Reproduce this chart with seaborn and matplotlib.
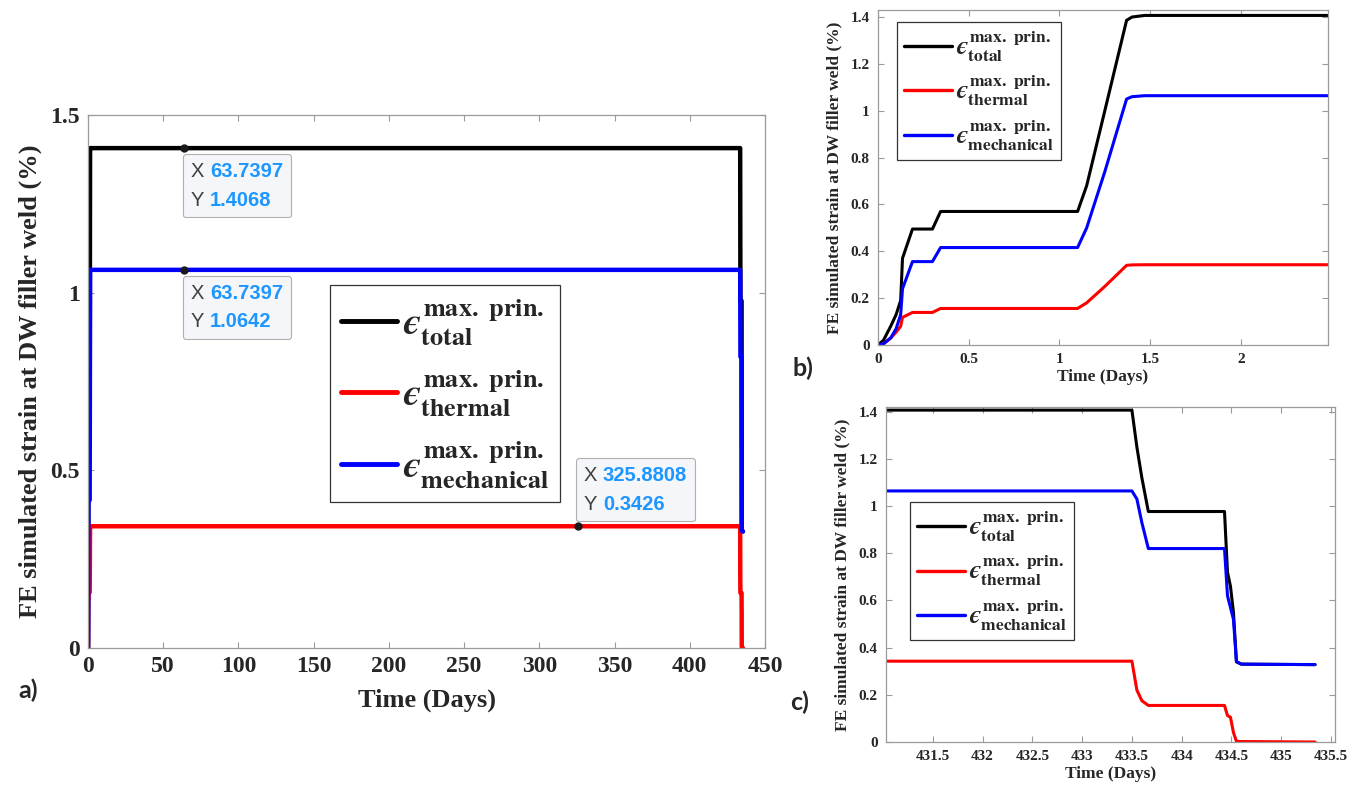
import matplotlib
matplotlib.use("Agg")
import matplotlib.pyplot as plt
from matplotlib.offsetbox import TextArea, HPacker, VPacker, AnnotationBbox
from matplotlib.ticker import FuncFormatter
import seaborn as sns
import pandas as pd

# time (days) and simulated max. principal strain (%) at the DW filler weld
time_days = [0, 0.03, 0.07, 0.10, 0.125, 0.135, 0.19, 0.30, 0.345, 1.10, 1.15, 1.25,
             1.37, 1.40, 1.47, 433.50, 433.55, 433.60, 433.665, 434.43, 434.46, 434.49,
             434.52, 434.55, 434.60, 435.34]
strain_total = [0, 0.02, 0.08, 0.13, 0.19, 0.37, 0.495, 0.495, 0.57, 0.57, 0.68, 1.00,
                1.386, 1.40, 1.4068, 1.4068, 1.25, 1.12, 0.977, 0.977, 0.72, 0.66,
                0.55, 0.34, 0.33, 0.328]
strain_thermal = [0, 0.005, 0.03, 0.055, 0.08, 0.118, 0.139, 0.139, 0.156, 0.156, 0.18, 0.25,
                  0.34, 0.342, 0.3426, 0.3426, 0.22, 0.175, 0.155, 0.155, 0.112, 0.105,
                  0.04, 0.003, 0.002, 0.0]
strain_mech = [0, 0.005, 0.03, 0.07, 0.13, 0.24, 0.356, 0.356, 0.416, 0.416, 0.50, 0.74,
               1.05, 1.06, 1.0642, 1.0642, 1.03, 0.93, 0.82, 0.82, 0.62, 0.57,
               0.52, 0.34, 0.33, 0.328]

series_names = ['total', 'thermal', 'mechanical']
series_colors = ['black', 'red', 'blue']

# data tips shown on panel a
tip_x = [63.7397, 63.7397, 325.8808]
tip_y = [1.4068, 1.0642, 0.3426]

df = pd.DataFrame({'Time': time_days, 'total': strain_total,
                   'thermal': strain_thermal, 'mechanical': strain_mech})

sns.set_style("ticks")
plt.rcParams['font.family'] = ['Liberation Serif', 'DejaVu Serif']
plt.rcParams['font.weight'] = 'bold'
plt.rcParams['axes.labelweight'] = 'bold'
plt.rcParams['mathtext.fontset'] = 'stix'

W, H = 1353, 787
fig = plt.figure(figsize=(W / 100, H / 100), dpi=100)
fig.patch.set_facecolor('white')


def px_axes(left, top, right, bottom):
    return fig.add_axes([left / W, 1 - bottom / H, (right - left) / W, (bottom - top) / H])


ax_a = px_axes(88, 115, 765, 648)
ax_b = px_axes(878, 10, 1328, 345)
ax_c = px_axes(886, 407, 1335, 742)

fmt = FuncFormatter(lambda v, p: '%g' % round(v, 4))
ylab = 'FE simulated strain at DW filler weld (%)'


def draw_panel(ax, lw, tick_fs, label_fs, leg_fs, leg_anchor, spacing, hlen):
    for name, col in zip(series_names, series_colors):
        lab = '$\u03f5^{\\mathbf{max.\\ prin.}}_{\\mathbf{' + name + '}}$'
        sns.lineplot(data=df, x='Time', y=name, ax=ax, color=col, lw=lw,
                     estimator=None, sort=False, label=lab)
    for sp in ax.spines.values():
        sp.set_visible(True)
        sp.set_color('#9a9a9a')
        sp.set_linewidth(0.9)
    ax.tick_params(direction='in', top=True, right=True, length=4, width=0.8,
                   color='#9a9a9a', labelsize=tick_fs, labelcolor='#262626', pad=6)
    ax.xaxis.set_major_formatter(fmt)
    ax.yaxis.set_major_formatter(fmt)
    ax.set_xlabel('Time (Days)', fontsize=label_fs, labelpad=2)
    ax.set_ylabel(ylab, fontsize=label_fs, labelpad=6)
    leg = ax.legend(loc='upper left', bbox_to_anchor=leg_anchor, fontsize=leg_fs,
                    frameon=True, fancybox=False, framealpha=1, edgecolor='#333333',
                    handlelength=hlen, handletextpad=0.15, borderpad=0.3,
                    labelspacing=spacing, borderaxespad=0)
    leg.get_frame().set_linewidth(0.9)
    for h in leg.get_lines():
        h.set_linewidth(lw * 1.1)


# panel a: whole time history
draw_panel(ax_a, 3.2, 17, 19, 27, (0.357, 0.681), 0.55, 1.5)
ax_a.set_xlim(0, 450)
ax_a.set_ylim(0, 1.5)
ax_a.set_xticks(range(0, 451, 50))
ax_a.set_yticks([0, 0.5, 1, 1.5])
ax_a.xaxis.labelpad = 8

# panel b: loading
draw_panel(ax_b, 2.2, 11, 12.5, 18, (0.042, 0.964), 0.4, 1.9)
ax_b.set_xlim(0, 2.48)
ax_b.set_ylim(0, 1.43)
ax_b.set_xticks([0, 0.5, 1, 1.5, 2])
ax_b.set_yticks([0, 0.2, 0.4, 0.6, 0.8, 1, 1.2, 1.4])

# panel c: unloading
draw_panel(ax_c, 2.2, 11, 12.5, 18, (0.053, 0.716), 0.4, 1.9)
ax_c.set_xlim(431.03, 435.54)
ax_c.set_ylim(0, 1.42)
ax_c.set_xticks([431.5, 432, 432.5, 433, 433.5, 434, 434.5, 435, 435.5])
ax_c.set_yticks([0, 0.2, 0.4, 0.6, 0.8, 1, 1.2, 1.4])

# data tips
tip_offsets = [((5, -10), (0, 1)), ((5, -10), (0, 1)), ((4, 9), (0, 0))]
for x, y, (off, align) in zip(tip_x, tip_y, tip_offsets):
    rows = []
    for key, val in (('X', '%.4f' % x), ('Y', '%.4f' % y)):
        rows.append(HPacker(children=[
            TextArea(key, textprops=dict(color='#404040', fontsize=14.5,
                                         family='Liberation Sans', weight='normal')),
            TextArea(val, textprops=dict(color='#1e96ff', fontsize=14.5,
                                         family='Liberation Sans', weight='bold'))],
            align='baseline', pad=0, sep=4))
    box = VPacker(children=rows, align='left', pad=0, sep=7)
    ab = AnnotationBbox(box, (x, y), xybox=off, xycoords='data',
                        boxcoords='offset points', box_alignment=align, pad=0.55,
                        bboxprops=dict(boxstyle='round,pad=0.55,rounding_size=0.2',
                                       fc='#f4f6f9', ec='#b0b0b0', lw=0.8), zorder=6)
    ax_a.add_artist(ab)
    ax_a.plot([x], [y], 'o', color='#1a1a1a', ms=5, zorder=7)

# panel letters
for lab, x, y in (('a)', 28, 690), ('b)', 803, 368), ('c)', 800, 702)):
    fig.text(x / W, 1 - y / H, lab, fontsize=18, fontweight='bold',
             family=['Lato', 'DejaVu Sans'], ha='center', va='center')

fig.savefig('out.png', dpi=100, facecolor='white')
